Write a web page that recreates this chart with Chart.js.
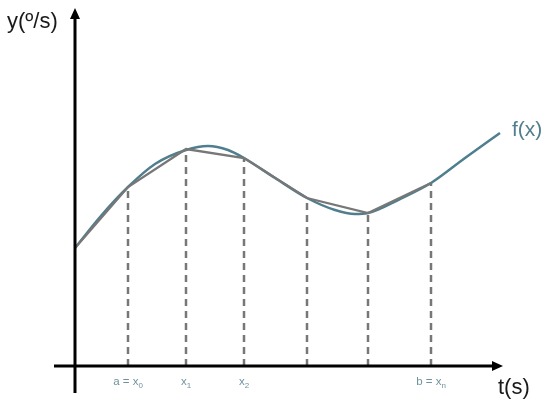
<!DOCTYPE html>
<html>
<head>
<meta charset="utf-8">
<script src="https://cdn.jsdelivr.net/npm/chart.js@4/dist/chart.umd.min.js"></script>
<style>
    body { margin: 0; background: #fff; }
    #wrap { width: 550px; height: 405px; }
</style>
</head>
<body>
<div id="wrap"><canvas id="riemann_chart"></canvas></div>
<script>
// nodes of the polygon (t values and y values)
const nodeT = [0, 1.06, 2.22, 3.38, 4.64, 5.86, 7.12];
const nodeY = [2.36, 3.58, 4.34, 4.16, 3.36, 3.06, 3.66];

// the curve f(x)
const curveT = [0, 0.5, 1.06, 1.6, 2.22, 2.66, 3.06, 3.38, 4.0, 4.64, 5.2, 5.6, 5.86, 6.5, 7.12, 7.8, 8.5];
const curveY = [2.36, 2.98, 3.58, 4.04, 4.32, 4.40, 4.32, 4.16, 3.76, 3.36, 3.12, 3.04, 3.06, 3.34, 3.66, 4.16, 4.66];

// labels under the t axis (index into nodeT)
const tickIndex = [1, 2, 3, 6];
const tickText = [["a = x", "0"], ["x", "1"], ["x", "2"], ["b = x", "n"]];

// axis extents
const tAxis = [-0.42, 8.56];
const yAxis = [-0.54, 7.16];

const teal = "#4f7f8e";
const grey = "#777777";

let datasets = [];

// dashed verticals from the t axis up to each node
for (let i = 1; i < nodeT.length; i++) {
    datasets.push({
        data: [{ x: nodeT[i], y: 0 }, { x: nodeT[i], y: nodeY[i] }],
        borderColor: grey,
        borderWidth: 2.5,
        borderDash: [7, 5],
        pointRadius: 0,
        order: 3
    });
}

datasets.push({
    data: curveT.map((t, i) => ({ x: t, y: curveY[i] })),
    borderColor: teal,
    borderWidth: 2.5,
    cubicInterpolationMode: "monotone",
    pointRadius: 0,
    order: 2
});

// polygon goes on top of the curve
datasets.push({
    data: nodeT.map((t, i) => ({ x: t, y: nodeY[i] })),
    borderColor: grey,
    borderWidth: 2.3,
    pointRadius: 0,
    order: 1
});

const arrowAxes = {
    id: "arrowAxes",
    afterDatasetsDraw(chart) {
        const ctx = chart.ctx;
        const xs = chart.scales.x;
        const ys = chart.scales.y;
        const x0 = xs.getPixelForValue(0);
        const y0 = ys.getPixelForValue(0);
        const xEnd = xs.getPixelForValue(tAxis[1]);
        const yTop = ys.getPixelForValue(yAxis[1]);

        ctx.save();
        ctx.strokeStyle = "#000";
        ctx.fillStyle = "#000";
        ctx.lineWidth = 3;
        ctx.beginPath();
        ctx.moveTo(xs.getPixelForValue(tAxis[0]), y0);
        ctx.lineTo(xEnd - 6, y0);
        ctx.moveTo(x0, ys.getPixelForValue(yAxis[0]));
        ctx.lineTo(x0, yTop + 6);
        ctx.stroke();

        // arrow heads
        ctx.beginPath();
        ctx.moveTo(xEnd, y0);
        ctx.lineTo(xEnd - 11, y0 - 5);
        ctx.lineTo(xEnd - 11, y0 + 5);
        ctx.closePath();
        ctx.fill();
        ctx.beginPath();
        ctx.moveTo(x0, yTop);
        ctx.lineTo(x0 - 5, yTop + 11);
        ctx.lineTo(x0 + 5, yTop + 11);
        ctx.closePath();
        ctx.fill();

        // axis titles
        ctx.fillStyle = "#1a1a1a";
        ctx.font = "22px 'Liberation Sans', Arial, sans-serif";
        ctx.textBaseline = "alphabetic";
        ctx.textAlign = "left";
        ctx.fillText("y(º/s)", 7, 28);
        ctx.fillText("t(s)", 498, 394);

        ctx.fillStyle = teal;
        ctx.font = "21px 'Liberation Sans', Arial, sans-serif";
        ctx.fillText("f(x)", 512, 136);

        // node labels with subscripts
        ctx.fillStyle = "#6f939e";
        tickIndex.forEach((idx, k) => {
            const px = xs.getPixelForValue(nodeT[idx]);
            const main = tickText[k][0];
            const sub = tickText[k][1];
            ctx.font = "11.5px 'Liberation Sans', Arial, sans-serif";
            const wMain = ctx.measureText(main).width;
            ctx.font = "8px 'Liberation Sans', Arial, sans-serif";
            const wSub = ctx.measureText(sub).width;
            const left = px - (wMain + wSub) / 2;
            ctx.font = "11.5px 'Liberation Sans', Arial, sans-serif";
            ctx.fillText(main, left, y0 + 19);
            ctx.font = "8px 'Liberation Sans', Arial, sans-serif";
            ctx.fillText(sub, left + wMain, y0 + 22);
        });
        ctx.restore();
    }
};

new Chart("riemann_chart", {
    type: "line",
    data: { datasets: datasets },
    options: {
        responsive: true,
        maintainAspectRatio: false,
        animation: false,
        layout: { padding: 0 },
        plugins: {
            legend: { display: false },
            tooltip: { enabled: false }
        },
        scales: {
            x: { type: "linear", min: -1.5, max: 9.5, display: false },
            y: { type: "linear", min: -0.78, max: 7.32, display: false }
        }
    },
    plugins: [arrowAxes]
});
</script>
</body>
</html>
